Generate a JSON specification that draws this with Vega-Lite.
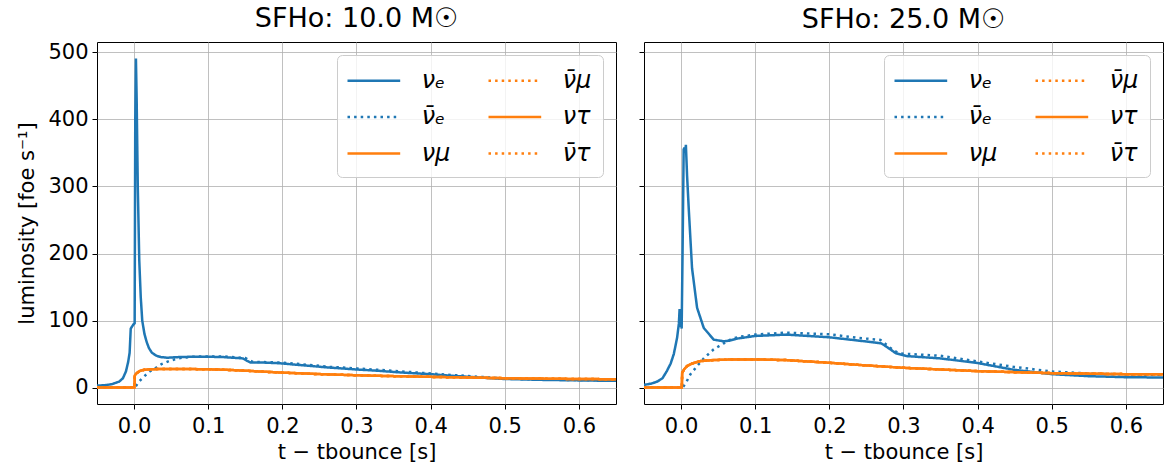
{
  "$schema": "https://vega.github.io/schema/vega-lite/v6.json",
  "background": "white",
  "padding": {"left": 16, "top": 4, "right": 5, "bottom": 5},
  "config": {
    "font": "DejaVu Sans",
    "view": {"stroke": "black", "strokeWidth": 1},
    "axis": {"grid": true, "gridColor": "#b0b0b0", "gridWidth": 0.8, "domain": false, "tickColor": "black", "tickSize": 5, "tickWidth": 1, "labelFont": "DejaVu Sans", "labelFontSize": 21, "labelColor": "black", "titleFont": "DejaVu Sans", "titleFontSize": 21, "titleFontWeight": "normal", "titleColor": "black", "labelPadding": 4},
    "axisX": {"labelPadding": 6, "titlePadding": 5},
    "title": {"font": "DejaVu Sans", "fontSize": 27, "fontWeight": "normal", "color": "black", "offset": 8},
    "legend": {"orient": "top-right", "offset": 13, "columns": 2, "symbolType": "M-1.1538,0L2.9,0", "symbolSize": 676, "symbolStrokeWidth": 2.5, "labelFont": "DejaVu Sans", "labelFontSize": 24, "labelFontStyle": "italic", "labelColor": "black", "labelOffset": 44.7, "rowPadding": 9.5, "columnPadding": 32, "padding": 11, "fillColor": "rgba(255,255,255,0.8)", "strokeColor": "#cccccc", "cornerRadius": 5},
    "concat": {"spacing": 21}
  },
  "data": {"values": [
    {"p":"10","s":"nue","t":-0.05,"L":3},{"p":"10","s":"nue","t":-0.04,"L":3.5},{"p":"10","s":"nue","t":-0.03,"L":5},{"p":"10","s":"nue","t":-0.02,"L":9},{"p":"10","s":"nue","t":-0.015,"L":14},{"p":"10","s":"nue","t":-0.011,"L":24},{"p":"10","s":"nue","t":-0.008,"L":38},{"p":"10","s":"nue","t":-0.006,"L":52},{"p":"10","s":"nue","t":-0.0045,"L":88},{"p":"10","s":"nue","t":-0.001,"L":94},{"p":"10","s":"nue","t":0.0008,"L":96},{"p":"10","s":"nue","t":0.0016,"L":400},{"p":"10","s":"nue","t":0.0025,"L":491},{"p":"10","s":"nue","t":0.0035,"L":430},{"p":"10","s":"nue","t":0.005,"L":300},{"p":"10","s":"nue","t":0.007,"L":190},{"p":"10","s":"nue","t":0.009,"L":135},{"p":"10","s":"nue","t":0.011,"L":100},{"p":"10","s":"nue","t":0.014,"L":80},{"p":"10","s":"nue","t":0.017,"L":68},{"p":"10","s":"nue","t":0.02,"L":59},{"p":"10","s":"nue","t":0.024,"L":52},{"p":"10","s":"nue","t":0.03,"L":47.5},{"p":"10","s":"nue","t":0.036,"L":45.5},{"p":"10","s":"nue","t":0.045,"L":44.5},{"p":"10","s":"nue","t":0.06,"L":45.5},{"p":"10","s":"nue","t":0.08,"L":46},{"p":"10","s":"nue","t":0.1,"L":46},{"p":"10","s":"nue","t":0.12,"L":45.5},{"p":"10","s":"nue","t":0.14,"L":44},{"p":"10","s":"nue","t":0.147,"L":43.5},{"p":"10","s":"nue","t":0.152,"L":40},{"p":"10","s":"nue","t":0.157,"L":37.5},{"p":"10","s":"nue","t":0.17,"L":37.5},{"p":"10","s":"nue","t":0.196,"L":36.3},{"p":"10","s":"nue","t":0.23,"L":33},{"p":"10","s":"nue","t":0.264,"L":29.8},{"p":"10","s":"nue","t":0.3,"L":27},{"p":"10","s":"nue","t":0.33,"L":25},{"p":"10","s":"nue","t":0.36,"L":22.5},{"p":"10","s":"nue","t":0.4,"L":20},{"p":"10","s":"nue","t":0.43,"L":17.5},{"p":"10","s":"nue","t":0.466,"L":15},{"p":"10","s":"nue","t":0.5,"L":12.8},{"p":"10","s":"nue","t":0.55,"L":11.5},{"p":"10","s":"nue","t":0.6,"L":10.7},{"p":"10","s":"nue","t":0.65,"L":10},
    {"p":"10","s":"anue","t":-0.05,"L":0},{"p":"10","s":"anue","t":0.001,"L":0},{"p":"10","s":"anue","t":0.003,"L":3},{"p":"10","s":"anue","t":0.0066,"L":9},{"p":"10","s":"anue","t":0.012,"L":15},{"p":"10","s":"anue","t":0.021,"L":24},{"p":"10","s":"anue","t":0.03,"L":30},{"p":"10","s":"anue","t":0.037,"L":35},{"p":"10","s":"anue","t":0.048,"L":40},{"p":"10","s":"anue","t":0.058,"L":43},{"p":"10","s":"anue","t":0.066,"L":44.7},{"p":"10","s":"anue","t":0.08,"L":46},{"p":"10","s":"anue","t":0.1,"L":46.5},{"p":"10","s":"anue","t":0.12,"L":46.5},{"p":"10","s":"anue","t":0.14,"L":45},{"p":"10","s":"anue","t":0.15,"L":44},{"p":"10","s":"anue","t":0.155,"L":41},{"p":"10","s":"anue","t":0.16,"L":38.5},{"p":"10","s":"anue","t":0.2,"L":37.3},{"p":"10","s":"anue","t":0.264,"L":31},{"p":"10","s":"anue","t":0.33,"L":26.5},{"p":"10","s":"anue","t":0.4,"L":21},{"p":"10","s":"anue","t":0.466,"L":16},{"p":"10","s":"anue","t":0.5,"L":13.5},{"p":"10","s":"anue","t":0.55,"L":12},{"p":"10","s":"anue","t":0.6,"L":11.2},{"p":"10","s":"anue","t":0.65,"L":10.8},
    {"p":"10","s":"numu","t":-0.05,"L":0},{"p":"10","s":"numu","t":0.0005,"L":0},{"p":"10","s":"numu","t":0.001,"L":18},{"p":"10","s":"numu","t":0.003,"L":21},{"p":"10","s":"numu","t":0.008,"L":25},{"p":"10","s":"numu","t":0.014,"L":26.5},{"p":"10","s":"numu","t":0.021,"L":27.3},{"p":"10","s":"numu","t":0.04,"L":27.8},{"p":"10","s":"numu","t":0.063,"L":27.8},{"p":"10","s":"numu","t":0.1,"L":27.3},{"p":"10","s":"numu","t":0.13,"L":26.3},{"p":"10","s":"numu","t":0.165,"L":24.3},{"p":"10","s":"numu","t":0.2,"L":22.3},{"p":"10","s":"numu","t":0.264,"L":19.5},{"p":"10","s":"numu","t":0.33,"L":17.5},{"p":"10","s":"numu","t":0.4,"L":16},{"p":"10","s":"numu","t":0.5,"L":14},{"p":"10","s":"numu","t":0.58,"L":13},{"p":"10","s":"numu","t":0.65,"L":12.4},
    {"p":"10","s":"anumu","t":-0.05,"L":0},{"p":"10","s":"anumu","t":0.0005,"L":0},{"p":"10","s":"anumu","t":0.001,"L":18},{"p":"10","s":"anumu","t":0.003,"L":21},{"p":"10","s":"anumu","t":0.008,"L":25},{"p":"10","s":"anumu","t":0.014,"L":26.5},{"p":"10","s":"anumu","t":0.021,"L":27.3},{"p":"10","s":"anumu","t":0.04,"L":27.8},{"p":"10","s":"anumu","t":0.063,"L":27.8},{"p":"10","s":"anumu","t":0.1,"L":27.3},{"p":"10","s":"anumu","t":0.13,"L":26.3},{"p":"10","s":"anumu","t":0.165,"L":24.3},{"p":"10","s":"anumu","t":0.2,"L":22.3},{"p":"10","s":"anumu","t":0.264,"L":19.5},{"p":"10","s":"anumu","t":0.33,"L":17.5},{"p":"10","s":"anumu","t":0.4,"L":16},{"p":"10","s":"anumu","t":0.5,"L":14},{"p":"10","s":"anumu","t":0.58,"L":13},{"p":"10","s":"anumu","t":0.65,"L":12.4},
    {"p":"10","s":"nutau","t":-0.05,"L":0},{"p":"10","s":"nutau","t":0.0005,"L":0},{"p":"10","s":"nutau","t":0.001,"L":18},{"p":"10","s":"nutau","t":0.003,"L":21},{"p":"10","s":"nutau","t":0.008,"L":25},{"p":"10","s":"nutau","t":0.014,"L":26.5},{"p":"10","s":"nutau","t":0.021,"L":27.3},{"p":"10","s":"nutau","t":0.04,"L":27.8},{"p":"10","s":"nutau","t":0.063,"L":27.8},{"p":"10","s":"nutau","t":0.1,"L":27.3},{"p":"10","s":"nutau","t":0.13,"L":26.3},{"p":"10","s":"nutau","t":0.165,"L":24.3},{"p":"10","s":"nutau","t":0.2,"L":22.3},{"p":"10","s":"nutau","t":0.264,"L":19.5},{"p":"10","s":"nutau","t":0.33,"L":17.5},{"p":"10","s":"nutau","t":0.4,"L":16},{"p":"10","s":"nutau","t":0.5,"L":14},{"p":"10","s":"nutau","t":0.58,"L":13},{"p":"10","s":"nutau","t":0.65,"L":12.4},
    {"p":"10","s":"anutau","t":-0.05,"L":0},{"p":"10","s":"anutau","t":0.0005,"L":0},{"p":"10","s":"anutau","t":0.001,"L":18},{"p":"10","s":"anutau","t":0.003,"L":21},{"p":"10","s":"anutau","t":0.008,"L":25},{"p":"10","s":"anutau","t":0.014,"L":26.5},{"p":"10","s":"anutau","t":0.021,"L":27.3},{"p":"10","s":"anutau","t":0.04,"L":27.8},{"p":"10","s":"anutau","t":0.063,"L":27.8},{"p":"10","s":"anutau","t":0.1,"L":27.3},{"p":"10","s":"anutau","t":0.13,"L":26.3},{"p":"10","s":"anutau","t":0.165,"L":24.3},{"p":"10","s":"anutau","t":0.2,"L":22.3},{"p":"10","s":"anutau","t":0.264,"L":19.5},{"p":"10","s":"anutau","t":0.33,"L":17.5},{"p":"10","s":"anutau","t":0.4,"L":16},{"p":"10","s":"anutau","t":0.5,"L":14},{"p":"10","s":"anutau","t":0.58,"L":13},{"p":"10","s":"anutau","t":0.65,"L":12.4},
    {"p":"25","s":"nue","t":-0.05,"L":4},{"p":"25","s":"nue","t":-0.04,"L":6},{"p":"25","s":"nue","t":-0.032,"L":9},{"p":"25","s":"nue","t":-0.025,"L":14},{"p":"25","s":"nue","t":-0.019,"L":25},{"p":"25","s":"nue","t":-0.014,"L":36},{"p":"25","s":"nue","t":-0.0098,"L":50},{"p":"25","s":"nue","t":-0.0054,"L":74},{"p":"25","s":"nue","t":-0.003,"L":95},{"p":"25","s":"nue","t":-0.002,"L":117},{"p":"25","s":"nue","t":-0.001,"L":90},{"p":"25","s":"nue","t":0,"L":112},{"p":"25","s":"nue","t":0.0008,"L":88},{"p":"25","s":"nue","t":0.002,"L":200},{"p":"25","s":"nue","t":0.0035,"L":355},{"p":"25","s":"nue","t":0.0045,"L":358},{"p":"25","s":"nue","t":0.0055,"L":350},{"p":"25","s":"nue","t":0.0065,"L":362},{"p":"25","s":"nue","t":0.0081,"L":316},{"p":"25","s":"nue","t":0.0104,"L":266},{"p":"25","s":"nue","t":0.0148,"L":178},{"p":"25","s":"nue","t":0.0216,"L":119},{"p":"25","s":"nue","t":0.0306,"L":89},{"p":"25","s":"nue","t":0.044,"L":71.5},{"p":"25","s":"nue","t":0.0575,"L":69},{"p":"25","s":"nue","t":0.065,"L":70},{"p":"25","s":"nue","t":0.075,"L":73},{"p":"25","s":"nue","t":0.1,"L":77},{"p":"25","s":"nue","t":0.142,"L":79},{"p":"25","s":"nue","t":0.2,"L":75},{"p":"25","s":"nue","t":0.24,"L":70},{"p":"25","s":"nue","t":0.263,"L":67},{"p":"25","s":"nue","t":0.27,"L":66},{"p":"25","s":"nue","t":0.277,"L":61},{"p":"25","s":"nue","t":0.29,"L":51},{"p":"25","s":"nue","t":0.304,"L":47},{"p":"25","s":"nue","t":0.35,"L":43.5},{"p":"25","s":"nue","t":0.4,"L":36.6},{"p":"25","s":"nue","t":0.448,"L":26.7},{"p":"25","s":"nue","t":0.5,"L":20},{"p":"25","s":"nue","t":0.55,"L":17},{"p":"25","s":"nue","t":0.6,"L":15.5},{"p":"25","s":"nue","t":0.65,"L":15},
    {"p":"25","s":"anue","t":-0.05,"L":0},{"p":"25","s":"anue","t":0.002,"L":0},{"p":"25","s":"anue","t":0.006,"L":6},{"p":"25","s":"anue","t":0.0127,"L":20},{"p":"25","s":"anue","t":0.0216,"L":32},{"p":"25","s":"anue","t":0.031,"L":44},{"p":"25","s":"anue","t":0.044,"L":57},{"p":"25","s":"anue","t":0.0575,"L":66},{"p":"25","s":"anue","t":0.0687,"L":73},{"p":"25","s":"anue","t":0.08,"L":76},{"p":"25","s":"anue","t":0.1,"L":79},{"p":"25","s":"anue","t":0.142,"L":82},{"p":"25","s":"anue","t":0.2,"L":79.5},{"p":"25","s":"anue","t":0.24,"L":74},{"p":"25","s":"anue","t":0.269,"L":71},{"p":"25","s":"anue","t":0.277,"L":64},{"p":"25","s":"anue","t":0.287,"L":55},{"p":"25","s":"anue","t":0.295,"L":51},{"p":"25","s":"anue","t":0.3,"L":50.5},{"p":"25","s":"anue","t":0.35,"L":47.5},{"p":"25","s":"anue","t":0.4,"L":39},{"p":"25","s":"anue","t":0.448,"L":31},{"p":"25","s":"anue","t":0.5,"L":24},{"p":"25","s":"anue","t":0.55,"L":21},{"p":"25","s":"anue","t":0.6,"L":19.6},{"p":"25","s":"anue","t":0.65,"L":19},
    {"p":"25","s":"numu","t":-0.05,"L":0},{"p":"25","s":"numu","t":0.001,"L":0},{"p":"25","s":"numu","t":0.0015,"L":22},{"p":"25","s":"numu","t":0.004,"L":27},{"p":"25","s":"numu","t":0.008,"L":32},{"p":"25","s":"numu","t":0.015,"L":36},{"p":"25","s":"numu","t":0.026,"L":39.5},{"p":"25","s":"numu","t":0.044,"L":41},{"p":"25","s":"numu","t":0.07,"L":42},{"p":"25","s":"numu","t":0.1,"L":42},{"p":"25","s":"numu","t":0.142,"L":41},{"p":"25","s":"numu","t":0.2,"L":37},{"p":"25","s":"numu","t":0.25,"L":33},{"p":"25","s":"numu","t":0.3,"L":29.5},{"p":"25","s":"numu","t":0.35,"L":27},{"p":"25","s":"numu","t":0.4,"L":24.5},{"p":"25","s":"numu","t":0.5,"L":21.5},{"p":"25","s":"numu","t":0.6,"L":20},{"p":"25","s":"numu","t":0.65,"L":20},
    {"p":"25","s":"anumu","t":-0.05,"L":0},{"p":"25","s":"anumu","t":0.001,"L":0},{"p":"25","s":"anumu","t":0.0015,"L":22},{"p":"25","s":"anumu","t":0.004,"L":27},{"p":"25","s":"anumu","t":0.008,"L":32},{"p":"25","s":"anumu","t":0.015,"L":36},{"p":"25","s":"anumu","t":0.026,"L":39.5},{"p":"25","s":"anumu","t":0.044,"L":41},{"p":"25","s":"anumu","t":0.07,"L":42},{"p":"25","s":"anumu","t":0.1,"L":42},{"p":"25","s":"anumu","t":0.142,"L":41},{"p":"25","s":"anumu","t":0.2,"L":37},{"p":"25","s":"anumu","t":0.25,"L":33},{"p":"25","s":"anumu","t":0.3,"L":29.5},{"p":"25","s":"anumu","t":0.35,"L":27},{"p":"25","s":"anumu","t":0.4,"L":24.5},{"p":"25","s":"anumu","t":0.5,"L":21.5},{"p":"25","s":"anumu","t":0.6,"L":20},{"p":"25","s":"anumu","t":0.65,"L":20},
    {"p":"25","s":"nutau","t":-0.05,"L":0},{"p":"25","s":"nutau","t":0.001,"L":0},{"p":"25","s":"nutau","t":0.0015,"L":22},{"p":"25","s":"nutau","t":0.004,"L":27},{"p":"25","s":"nutau","t":0.008,"L":32},{"p":"25","s":"nutau","t":0.015,"L":36},{"p":"25","s":"nutau","t":0.026,"L":39.5},{"p":"25","s":"nutau","t":0.044,"L":41},{"p":"25","s":"nutau","t":0.07,"L":42},{"p":"25","s":"nutau","t":0.1,"L":42},{"p":"25","s":"nutau","t":0.142,"L":41},{"p":"25","s":"nutau","t":0.2,"L":37},{"p":"25","s":"nutau","t":0.25,"L":33},{"p":"25","s":"nutau","t":0.3,"L":29.5},{"p":"25","s":"nutau","t":0.35,"L":27},{"p":"25","s":"nutau","t":0.4,"L":24.5},{"p":"25","s":"nutau","t":0.5,"L":21.5},{"p":"25","s":"nutau","t":0.6,"L":20},{"p":"25","s":"nutau","t":0.65,"L":20},
    {"p":"25","s":"anutau","t":-0.05,"L":0},{"p":"25","s":"anutau","t":0.001,"L":0},{"p":"25","s":"anutau","t":0.0015,"L":22},{"p":"25","s":"anutau","t":0.004,"L":27},{"p":"25","s":"anutau","t":0.008,"L":32},{"p":"25","s":"anutau","t":0.015,"L":36},{"p":"25","s":"anutau","t":0.026,"L":39.5},{"p":"25","s":"anutau","t":0.044,"L":41},{"p":"25","s":"anutau","t":0.07,"L":42},{"p":"25","s":"anutau","t":0.1,"L":42},{"p":"25","s":"anutau","t":0.142,"L":41},{"p":"25","s":"anutau","t":0.2,"L":37},{"p":"25","s":"anutau","t":0.25,"L":33},{"p":"25","s":"anutau","t":0.3,"L":29.5},{"p":"25","s":"anutau","t":0.35,"L":27},{"p":"25","s":"anutau","t":0.4,"L":24.5},{"p":"25","s":"anutau","t":0.5,"L":21.5},{"p":"25","s":"anutau","t":0.6,"L":20},{"p":"25","s":"anutau","t":0.65,"L":20}
  ]},
  "hconcat": [
    {
      "width": 519, "height": 362,
      "title": {"text": "SFHo: 10.0 M\u2609"},
      "transform": [{"filter": "datum.p == '10'"}],
      "mark": {"type": "line", "strokeWidth": 2.5, "clip": true},
      "encoding": {
        "x": {"field": "t", "type": "quantitative", "scale": {"domain": [-0.05, 0.65], "nice": false, "zero": false}, "axis": {"values": [0, 0.1, 0.2, 0.3, 0.4, 0.5, 0.6], "format": ".1f", "title": "t \u2212 tbounce [s]"}},
        "y": {"field": "L", "type": "quantitative", "scale": {"domain": [-24.5, 515.5], "nice": false, "zero": false}, "axis": {"values": [0, 100, 200, 300, 400, 500], "format": "d", "title": "luminosity [foe s\u207b\u00b9]", "titlePadding": 10}},
        "color": {"field": "s", "type": "nominal", "scale": {"domain": ["nue", "anue", "numu", "anumu", "nutau", "anutau"], "range": ["#1f77b4", "#1f77b4", "#ff7f0e", "#ff7f0e", "#ff7f0e", "#ff7f0e"]}, "legend": {"title": null, "labelExpr": "{'nue':'\u03bd\u2091','anue':'\u03bd\u0304\u2091','numu':'\u03bd\u03bc','anumu':'\u03bd\u0304\u03bc','nutau':'\u03bd\u03c4','anutau':'\u03bd\u0304\u03c4'}[datum.label]"}},
        "strokeDash": {"field": "s", "type": "nominal", "scale": {"domain": ["nue", "anue", "numu", "anumu", "nutau", "anutau"], "range": [[1, 0], [2.5, 4.1], [1, 0], [2.5, 4.1], [1, 0], [2.5, 4.1]]}, "legend": {"title": null, "labelExpr": "{'nue':'\u03bd\u2091','anue':'\u03bd\u0304\u2091','numu':'\u03bd\u03bc','anumu':'\u03bd\u0304\u03bc','nutau':'\u03bd\u03c4','anutau':'\u03bd\u0304\u03c4'}[datum.label]"}}
      }
    },
    {
      "width": 519, "height": 362,
      "title": {"text": "SFHo: 25.0 M\u2609"},
      "transform": [{"filter": "datum.p == '25'"}],
      "mark": {"type": "line", "strokeWidth": 2.5, "clip": true},
      "encoding": {
        "x": {"field": "t", "type": "quantitative", "scale": {"domain": [-0.05, 0.65], "nice": false, "zero": false}, "axis": {"values": [0, 0.1, 0.2, 0.3, 0.4, 0.5, 0.6], "format": ".1f", "title": "t \u2212 tbounce [s]"}},
        "y": {"field": "L", "type": "quantitative", "scale": {"domain": [-24.5, 515.5], "nice": false, "zero": false}, "axis": {"values": [0, 100, 200, 300, 400, 500], "labels": false, "title": null}},
        "color": {"field": "s", "type": "nominal", "scale": {"domain": ["nue", "anue", "numu", "anumu", "nutau", "anutau"], "range": ["#1f77b4", "#1f77b4", "#ff7f0e", "#ff7f0e", "#ff7f0e", "#ff7f0e"]}, "legend": {"title": null, "labelExpr": "{'nue':'\u03bd\u2091','anue':'\u03bd\u0304\u2091','numu':'\u03bd\u03bc','anumu':'\u03bd\u0304\u03bc','nutau':'\u03bd\u03c4','anutau':'\u03bd\u0304\u03c4'}[datum.label]"}},
        "strokeDash": {"field": "s", "type": "nominal", "scale": {"domain": ["nue", "anue", "numu", "anumu", "nutau", "anutau"], "range": [[1, 0], [2.5, 4.1], [1, 0], [2.5, 4.1], [1, 0], [2.5, 4.1]]}, "legend": {"title": null, "labelExpr": "{'nue':'\u03bd\u2091','anue':'\u03bd\u0304\u2091','numu':'\u03bd\u03bc','anumu':'\u03bd\u0304\u03bc','nutau':'\u03bd\u03c4','anutau':'\u03bd\u0304\u03c4'}[datum.label]"}}
      }
    }
  ],
  "resolve": {"scale": {"x": "independent", "y": "independent", "color": "independent", "strokeDash": "independent"}, "legend": {"color": "independent", "strokeDash": "independent"}}
}
